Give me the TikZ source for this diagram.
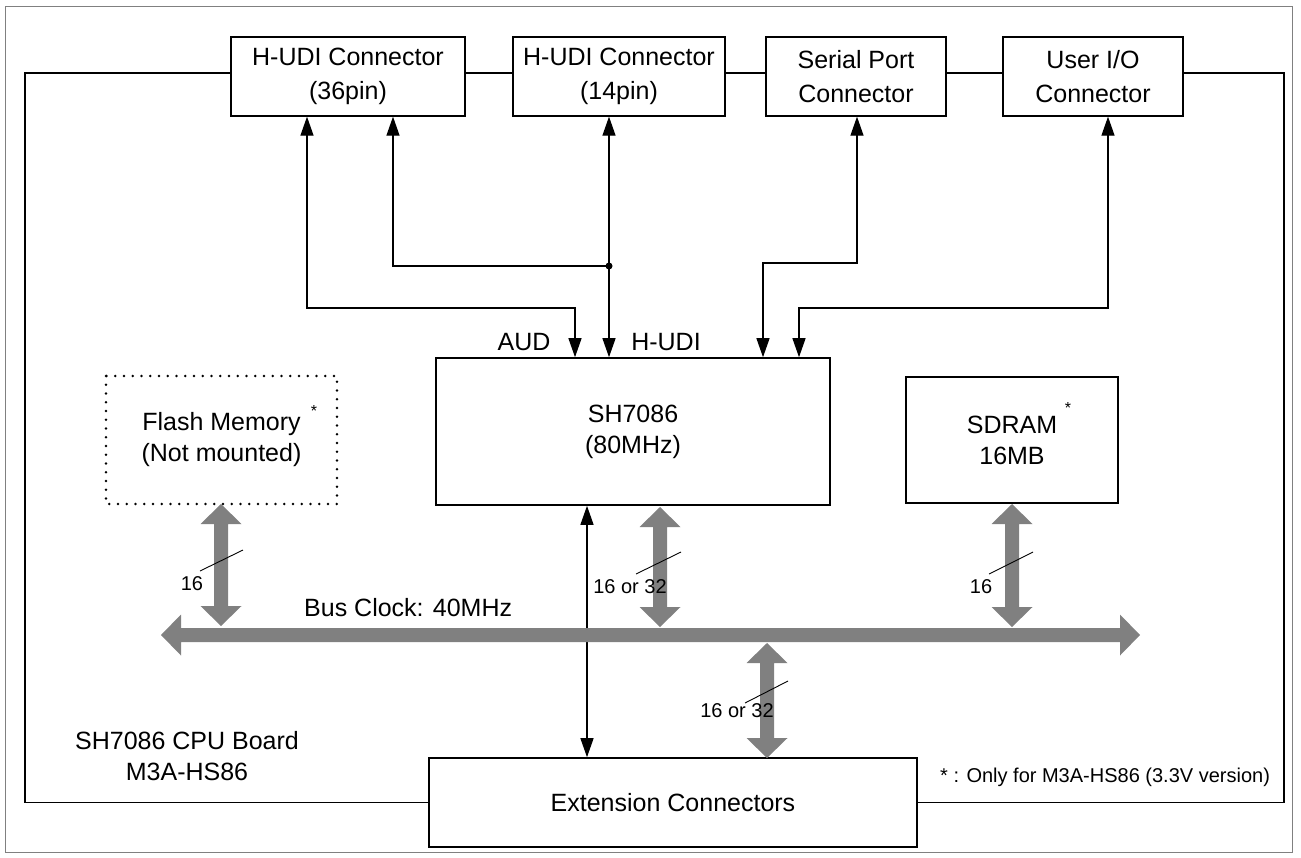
\documentclass[tikz,border=0pt]{standalone}
\usepackage{fontspec}
\setmainfont{Liberation Sans}
\usetikzlibrary{arrows.meta,calc}
\definecolor{busgray}{RGB}{128,128,128}
\newcommand\fbig{\fontsize{25}{31}\selectfont}
\newcommand\ftop{\fontsize{25}{34}\selectfont}
\newcommand\fsmall{\fontsize{20}{24}\selectfont}
\newcommand\vbus[3]{\fill[busgray] (#1,#2) -- (#1+20.5,#2+20) -- (#1+7,#2+20) -- (#1+7,#3-20) -- (#1+20.5,#3-20) -- (#1,#3) -- (#1-20.5,#3-20) -- (#1-7,#3-20) -- (#1-7,#2+20) -- (#1-20.5,#2+20) -- cycle;}
\begin{document}
\begin{tikzpicture}[x=1pt,y=-1pt,
  >={Triangle[width=13pt,length=19pt]},
  box/.style={draw=black,line width=1.6pt,inner sep=0pt,align=center,font=\fbig},
  topbox/.style={box,line width=1.3pt,minimum height=79pt,font=\ftop},
  conn/.style={draw=black,line width=1.2pt},
  frame/.style={draw=black,line width=1.3pt},
  slash/.style={draw=black,line width=0.9pt},
  lbl/.style={font=\fsmall,inner sep=0pt},
  star/.style={font=\fontsize{16}{16}\selectfont,inner sep=0pt}]
\useasboundingbox (0,0) rectangle (1301,857);
% outer frame
\draw[gray,line width=0.8pt] (5,6) rectangle (1292,852);
% top connectors
\node[topbox,minimum width=234pt] (b1) at (348,76.5) {H-UDI Connector\\(36pin)};
\node[topbox,minimum width=212pt] (b2) at (619,76.5) {H-UDI Connector\\(14pin)};
\node[topbox,minimum width=180pt] (b3) at (856,76.5) {Serial Port\\Connector};
\node[topbox,minimum width=180pt] (b4) at (1093,76.5) {User I/O\\Connector};
% main blocks
\node[box,minimum width=394pt,minimum height=147pt] (sh) at (633,431.5) {SH7086\\(80MHz)};
\node[box,minimum width=212pt,minimum height=126pt] (sdram) at (1012,440) {SDRAM\\16MB};
\node[box,draw=none,minimum width=231pt,minimum height=128pt] (flash) at (221.5,440) {Flash Memory\\(Not mounted)};
\draw[line width=2.6pt,line cap=round,dash pattern=on 0pt off 8.75pt] (106,376) rectangle (337,504);
\node[box,minimum width=488pt,minimum height=89pt] (ext) at (673,802.5) {Extension Connectors};
\node[star] (s1) at (314,411) {*};
\node[star] (s2) at (1068,408) {*};
% inner frame
\coordinate (ft) at (0,73);
\draw[frame] (b1.west |- ft) -- (25,73) -- (25,802.5) -- (ext.west);
\draw[frame] (b1.east |- ft) -- (b2.west |- ft);
\draw[frame] (b2.east |- ft) -- (b3.west |- ft);
\draw[frame] (b3.east |- ft) -- (b4.west |- ft);
\draw[frame] (b4.east |- ft) -- (1284,73) -- (1284,802.5) -- (ext.east);
% signal connectors
\coordinate (x307) at (307,0);
\coordinate (x393) at (393,0);
\coordinate (x575) at (575,0);
\coordinate (x587) at (587,0);
\coordinate (x609) at (609,0);
\coordinate (x763) at (763,0);
\coordinate (x799) at (799,0);
\coordinate (x857) at (857,0);
\coordinate (x1108) at (1108,0);
\coordinate (j) at (609,266);
\draw[conn,<->] (b1.south -| x307) -- (307,308) -- (575,308) -- (sh.north -| x575);
\draw[conn,->] (j) -- (393,266) -- (b1.south -| x393);
\draw[conn,<->] (b2.south -| x609) -- (sh.north -| x609);
\fill (j) circle (3.5pt);
\draw[conn,<->] (b3.south -| x857) -- (857,263) -- (763,263) -- (sh.north -| x763);
\draw[conn,<->] (b4.south -| x1108) -- (1108,308) -- (799,308) -- (sh.north -| x799);
\draw[conn,<->] (sh.south -| x587) -- (ext.north -| x587);
\node[font=\fbig,inner sep=0pt] (aud) at (524,342) {AUD};
\node[font=\fbig,inner sep=0pt] (hudi) at (666,342) {H-UDI};
% buses
\fill[busgray] (161,635) -- (181,614.5) -- (181,628) -- (1120,628) -- (1120,614.5) -- (1140,635) -- (1120,655.5) -- (1120,642) -- (181,642) -- (181,655.5) -- cycle;
\vbus{221}{504}{626}
\vbus{660}{507}{627}
\vbus{1012}{504}{627}
\vbus{767}{643}{758}
\node[font=\fbig,inner sep=0pt,anchor=west] (clk) at (304,608) {Bus Clock: 40MHz};
% bus widths
\draw[slash] (200,571) -- (243,550);
\draw[slash] (636,574) -- (681,552);
\draw[slash] (989,574) -- (1033,552);
\draw[slash] (745,703) -- (788,681);
\node[lbl] (w1) at (192,584) {16};
\node[lbl] (w2) at (630,587) {16 or 32};
\node[lbl] (w3) at (981,587) {16};
\node[lbl] (w4) at (737,711) {16 or 32};
% texts
\node[font=\fbig,align=center,inner sep=0pt] (board) at (187,756) {SH7086 CPU Board\\M3A-HS86};
\node[lbl,anchor=west] (note) at (940,777) {* : Only for M3A-HS86 (3.3V version)};
\end{tikzpicture}
\end{document}
